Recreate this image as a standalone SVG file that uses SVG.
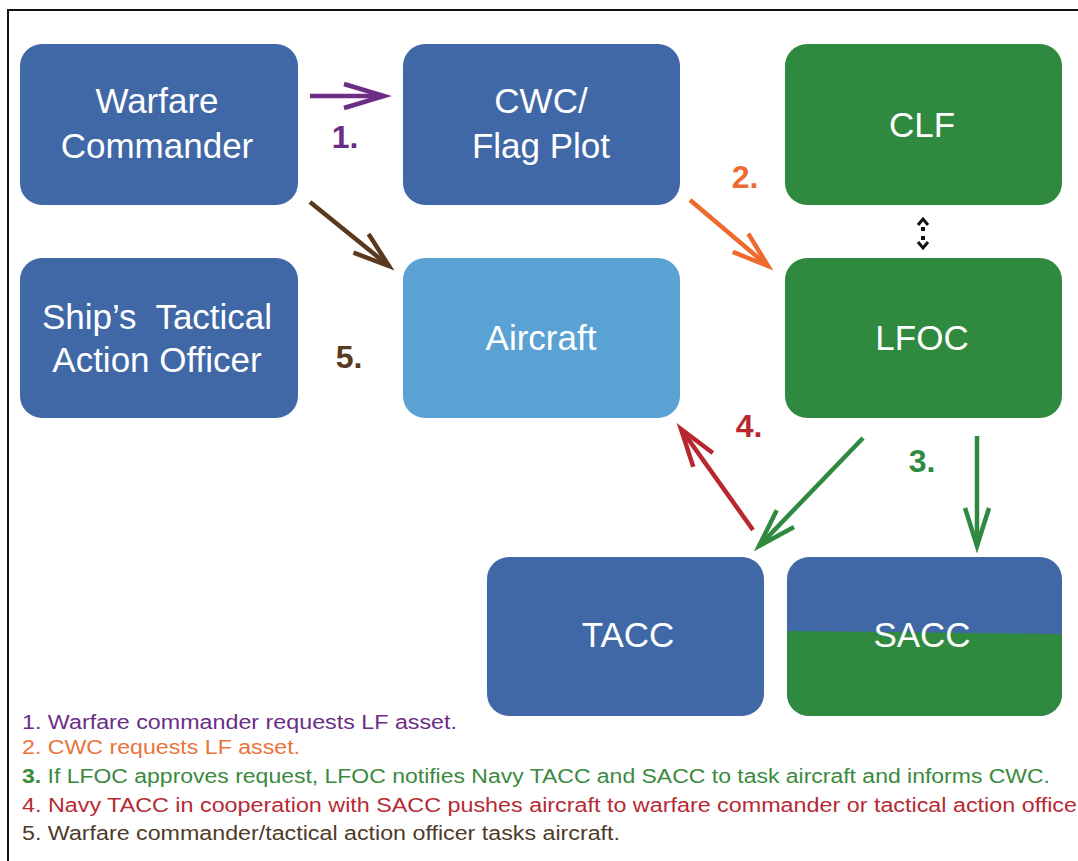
<svg xmlns="http://www.w3.org/2000/svg" width="1078" height="861" viewBox="0 0 1078 861">
<style>
.box{stroke:none}
.blue{fill:#4068A6}
.green{fill:#2F8A3F}
.lblue{fill:#5AA2D4}
.lbl{font-family:"Liberation Sans",Arial,sans-serif;font-size:35px;fill:#ffffff;text-anchor:middle}
.num{font-family:"Liberation Sans",Arial,sans-serif;font-size:32px;font-weight:bold;text-anchor:middle}
.leg{font-family:"Liberation Sans",Arial,sans-serif;font-size:20px}
.ln{fill:none;stroke-width:4.5;stroke-linecap:butt}
</style>
<defs>
<marker id="mPurple" markerUnits="userSpaceOnUse" markerWidth="60" markerHeight="40" viewBox="-44 -20 60 40" refX="0" refY="0" orient="auto"><path d="M-40,-12 L0,0 L-40,12" fill="none" stroke="#6B2D86" stroke-width="4.5"/></marker>
<marker id="mOrange" markerUnits="userSpaceOnUse" markerWidth="60" markerHeight="40" viewBox="-44 -20 60 40" refX="0" refY="0" orient="auto"><path d="M-36,-12 L0,0 L-36,12" fill="none" stroke="#EE6A2E" stroke-width="4.5"/></marker>
<marker id="mBrown" markerUnits="userSpaceOnUse" markerWidth="60" markerHeight="40" viewBox="-44 -20 60 40" refX="0" refY="0" orient="auto"><path d="M-36,-12 L0,0 L-36,12" fill="none" stroke="#5A3A1E" stroke-width="4.5"/></marker>
<marker id="mGreen" markerUnits="userSpaceOnUse" markerWidth="60" markerHeight="40" viewBox="-44 -20 60 40" refX="0" refY="0" orient="auto"><path d="M-38,-12 L0,0 L-38,12" fill="none" stroke="#2F8A3F" stroke-width="4.5"/></marker>
<marker id="mRed" markerUnits="userSpaceOnUse" markerWidth="60" markerHeight="40" viewBox="-44 -20 60 40" refX="0" refY="0" orient="auto"><path d="M-38,-12 L0,0 L-38,12" fill="none" stroke="#B8262F" stroke-width="4.5"/></marker>
<clipPath id="saccClip"><rect x="787" y="557" width="275" height="159" rx="22" ry="22"/></clipPath>
</defs>
<rect x="0" y="0" width="1078" height="861" fill="#ffffff"/>
<path d="M8,861 L8,10 L1078,10" fill="none" stroke="#111111" stroke-width="2"/>

<g id="warfare-commander">
<rect class="box blue" x="20" y="44" width="278" height="161" rx="22" ry="22"/>
<text class="lbl" x="157" y="113">Warfare</text>
<text class="lbl" x="157" y="158">Commander</text>
</g>
<g id="cwc">
<rect class="box blue" x="403" y="44" width="277" height="161" rx="22" ry="22"/>
<text class="lbl" x="541" y="113">CWC/</text>
<text class="lbl" x="541" y="158">Flag Plot</text>
</g>
<g id="clf">
<rect class="box green" x="785" y="44" width="277" height="161" rx="22" ry="22"/>
<text class="lbl" x="922" y="137">CLF</text>
</g>
<g id="tao">
<rect class="box blue" x="20" y="258" width="278" height="160" rx="22" ry="22"/>
<text class="lbl" x="157" y="329">Ship’s&#160; Tactical</text>
<text class="lbl" x="157" y="372">Action Officer</text>
</g>
<g id="aircraft">
<rect class="box lblue" x="403" y="258" width="277" height="160" rx="22" ry="22"/>
<text class="lbl" x="541" y="350">Aircraft</text>
</g>
<g id="lfoc">
<rect class="box green" x="785" y="258" width="277" height="160" rx="22" ry="22"/>
<text class="lbl" x="922" y="350">LFOC</text>
</g>
<g id="tacc">
<rect class="box blue" x="487" y="557" width="277" height="159" rx="22" ry="22"/>
<text class="lbl" x="628" y="647">TACC</text>
</g>
<g id="sacc">
<g clip-path="url(#saccClip)">
<rect class="blue" x="787" y="557" width="275" height="159"/>
<path class="green" d="M787,631 L1062,634 L1062,716 L787,716 Z"/>
</g>
<text class="lbl" x="922" y="647">SACC</text>
</g>

<g id="connectors">
<line class="ln" x1="310" y1="96" x2="384" y2="96" stroke="#6B2D86" marker-end="url(#mPurple)"/>
<line class="ln" x1="690" y1="200" x2="768" y2="266" stroke="#EE6A2E" marker-end="url(#mOrange)"/>
<line class="ln" x1="310" y1="202" x2="389" y2="266" stroke="#5A3A1E" marker-end="url(#mBrown)"/>
<line class="ln" x1="863" y1="438" x2="759" y2="546" stroke="#2F8A3F" marker-end="url(#mGreen)"/>
<line class="ln" x1="977" y1="436" x2="977" y2="546" stroke="#2F8A3F" marker-end="url(#mGreen)"/>
<line class="ln" x1="753" y1="530" x2="681" y2="429" stroke="#B8262F" marker-end="url(#mRed)"/>
<g id="clf-lfoc" fill="none" stroke="#111111" stroke-width="3">
<path d="M918,225 L923,219 L928,225"/>
<path d="M918,242 L923,248 L928,242"/>
<rect x="921" y="227" width="4" height="4" fill="#111111" stroke="none"/>
<rect x="921" y="236" width="4" height="4" fill="#111111" stroke="none"/>
</g>
</g>

<g id="step-labels">
<text class="num" x="345" y="148" fill="#6B2D86">1.</text>
<text class="num" x="745" y="188" fill="#EE6A2E">2.</text>
<text class="num" x="922" y="472" fill="#2F8A3F">3.</text>
<text class="num" x="749" y="437" fill="#B8262F">4.</text>
<text class="num" x="349" y="368" fill="#5A3A1E">5.</text>
</g>

<g id="legend" class="leg">
<text x="22" y="729" fill="#6B2D86" textLength="435" lengthAdjust="spacingAndGlyphs">1. Warfare commander requests LF asset.</text>
<text x="22" y="754" fill="#E8743B" textLength="278" lengthAdjust="spacingAndGlyphs">2. CWC requests LF asset.</text>
<text x="22" y="783" fill="#3A8A3E" textLength="1028" lengthAdjust="spacingAndGlyphs"><tspan font-weight="bold">3.</tspan> If LFOC approves request, LFOC notifies Navy TACC and SACC to task aircraft and informs CWC.</text>
<text x="22" y="812" fill="#B62A34" textLength="1055" lengthAdjust="spacingAndGlyphs">4. Navy TACC in cooperation with SACC pushes aircraft to warfare commander or tactical action office</text>
<text x="22" y="840" fill="#4E3B2A" textLength="598" lengthAdjust="spacingAndGlyphs">5. Warfare commander/tactical action officer tasks aircraft.</text>
</g>
</svg>
